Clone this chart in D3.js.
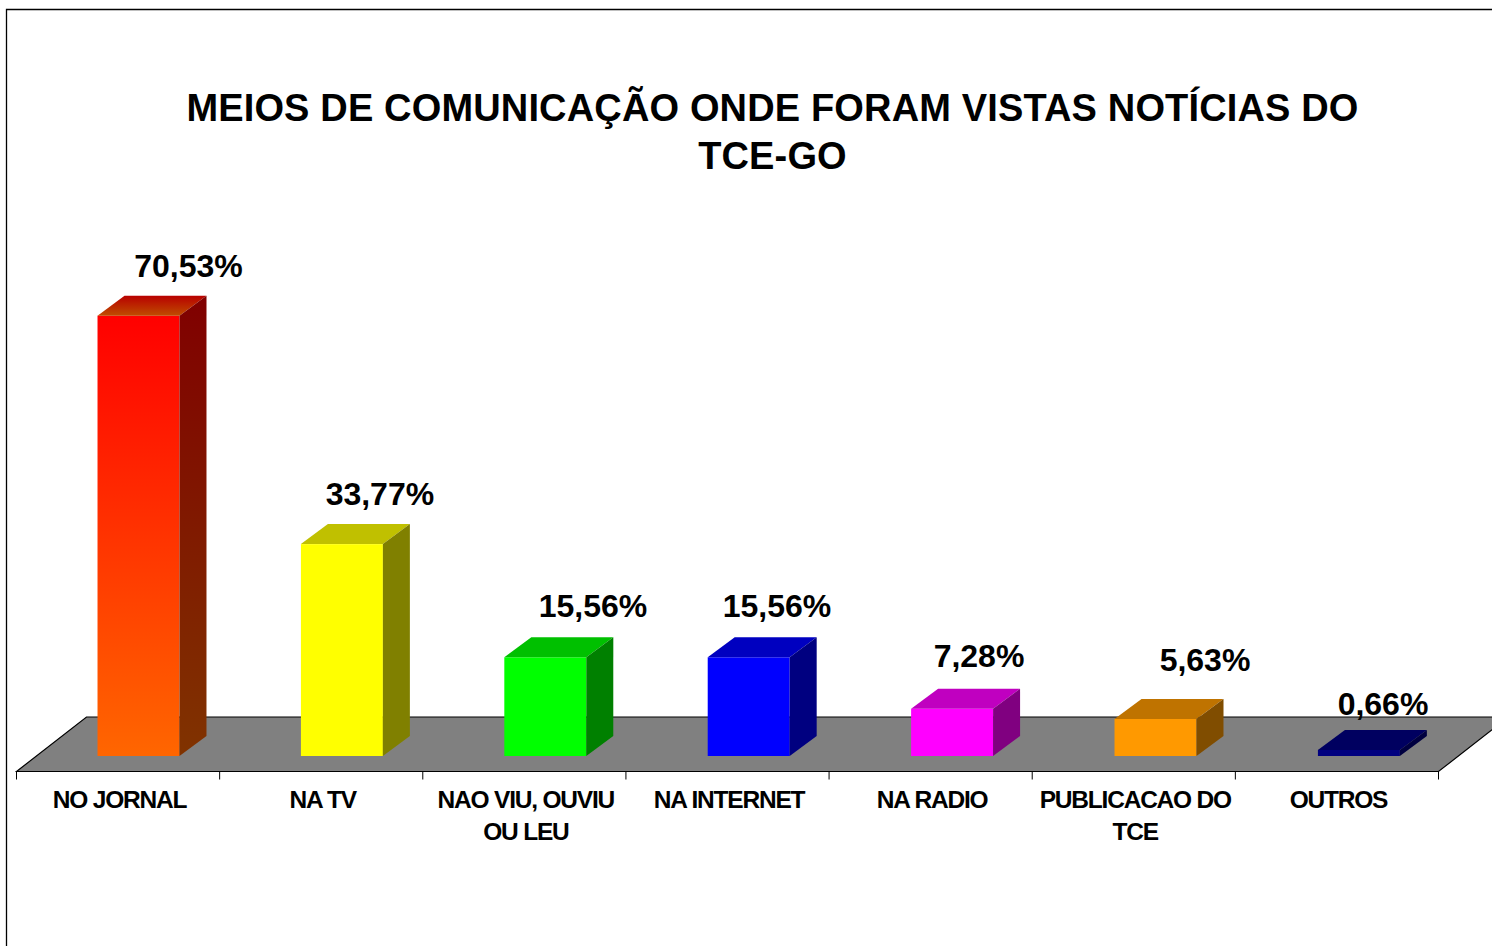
<!DOCTYPE html>
<html>
<head>
<meta charset="utf-8">
<script src="https://cdn.jsdelivr.net/npm/d3@7"></script>
<style>
    html, body { margin: 0; padding: 0; background: #fff; overflow: hidden; }
    svg { display: block; }
    text { font-family: "Liberation Sans", Arial, sans-serif; font-weight: bold; fill: #000; }
    .tick text { font-size: 24.5px; letter-spacing: -1.2px; }
    .title { letter-spacing: 0.15px; }
</style>
</head>
<body>
<div id="chart"></div>
<script>
const categories = ['NO JORNAL', 'NA TV', 'NAO VIU, OUVIU OU LEU', 'NA INTERNET', 'NA RADIO', 'PUBLICACAO DO TCE', 'OUTROS'];
const percents = [70.53, 33.77, 15.56, 15.56, 7.28, 5.63, 0.66];
const valueLabels = ['70,53%', '33,77%', '15,56%', '15,56%', '7,28%', '5,63%', '0,66%'];
const titleLines = ['MEIOS DE COMUNICAÇÃO ONDE FORAM VISTAS NOTÍCIAS DO', 'TCE-GO'];

// front, top and side colours, the first bar fades so it has two of each
const frontColors = [['#ff0000', '#ff6600'], ['#ffff00'], ['#00ff00'], ['#0000ff'], ['#ff00ff'], ['#ff9900'], ['#000080']];
const topColors = [['#b80000', '#bf4c00'], ['#c0c000'], ['#00c000'], ['#0000c0'], ['#c000c0'], ['#bf7300'], ['#000060']];
const sideColors = [['#800000', '#803300'], ['#808000'], ['#008000'], ['#000080'], ['#800080'], ['#804d00'], ['#000040']];

// the labels sit by hand in the original, not over the bars
const labelDx = [50, 38, 47.7, 28.3, 26.9, 49.5, 24.1];
const labelDy = [-38.5, -39, -40.5, -40.5, -42, -48, -35];

const width = 1492, height = 946;
const depthX = 27, depthY = 20;
const floorFront = 771.5, floorBack = 717, floorDepth = 70;
const baseY = 756;
const zeroY = 754;

const svg = d3.select('#chart').append('svg')
    .attr('width', width)
    .attr('height', height);

const defs = svg.append('defs');

// axis runs along the front edge of the floor
const xAxis = d3.scaleBand().domain(categories).range([16.5, 1438.5]);
// bars stand further back, so they are shifted to the right of the axis bands
const xBars = d3.scaleBand().domain(categories).range([36.8, 1460.6]).paddingInner(0.597).paddingOuter(0.2985);
const y = d3.scaleLinear().domain([0, 80]).range([zeroY, zeroY - 80 * 6.215]);

function fillFor(colors, id) {
    if (colors.length === 1) return colors[0];
    const grad = defs.append('linearGradient')
        .attr('id', id)
        .attr('x1', 0).attr('y1', 0)
        .attr('x2', 0).attr('y2', 1);
    grad.append('stop').attr('offset', '0%').attr('stop-color', colors[0]);
    grad.append('stop').attr('offset', '100%').attr('stop-color', colors[1]);
    return 'url(#' + id + ')';
}

function polygon(points) {
    return points.map(p => p.join(',')).join(' ');
}

// page frame, top and left only
svg.append('path')
    .attr('d', 'M6.5,946V9.5H1492')
    .attr('fill', 'none')
    .attr('stroke', '#000')
    .attr('stroke-width', 1.3);

// floor
svg.append('polygon')
    .attr('points', polygon([
        [xAxis.range()[0], floorFront],
        [xAxis.range()[0] + floorDepth, floorBack],
        [xAxis.range()[1] + floorDepth, floorBack],
        [xAxis.range()[1], floorFront]
    ]))
    .attr('fill', '#808080')
    .attr('stroke', '#000')
    .attr('stroke-width', 1.2);

// bars
const bars = svg.selectAll('.bar')
    .data(categories)
    .enter().append('g')
    .classed('bar', true);

bars.append('rect')
    .attr('x', d => xBars(d))
    .attr('y', (d, i) => y(percents[i]))
    .attr('width', xBars.bandwidth())
    .attr('height', (d, i) => baseY - y(percents[i]))
    .attr('fill', (d, i) => fillFor(frontColors[i], 'front' + i));

bars.append('polygon')
    .attr('points', (d, i) => {
        const x0 = xBars(d), x1 = x0 + xBars.bandwidth(), t = y(percents[i]);
        return polygon([[x0, t], [x0 + depthX, t - depthY], [x1 + depthX, t - depthY], [x1, t]]);
    })
    .attr('fill', (d, i) => fillFor(topColors[i], 'top' + i));

bars.append('polygon')
    .attr('points', (d, i) => {
        const x1 = xBars(d) + xBars.bandwidth(), t = y(percents[i]);
        return polygon([[x1, t], [x1 + depthX, t - depthY], [x1 + depthX, baseY - depthY], [x1, baseY]]);
    })
    .attr('fill', (d, i) => fillFor(sideColors[i], 'side' + i));

// value labels
svg.selectAll('.value')
    .data(valueLabels)
    .enter().append('text')
    .classed('value', true)
    .attr('text-anchor', 'middle')
    .attr('font-size', 32)
    .attr('x', (d, i) => xBars(categories[i]) + xBars.bandwidth() / 2 + labelDx[i])
    .attr('y', (d, i) => y(percents[i]) + labelDy[i])
    .text(d => d);

// category axis
const axisG = svg.append('g')
    .attr('transform', 'translate(0,' + floorFront + ')')
    .call(d3.axisBottom(xAxis).tickSize(0).tickPadding(19));
axisG.select('.domain').remove();
axisG.selectAll('.tick text')
    .attr('font-size', null)
    .attr('font-family', null)
    .call(wrapLabels, 205);

// ticks go between the categories
axisG.selectAll('.bound')
    .data(d3.range(categories.length + 1))
    .enter().append('line')
    .classed('bound', true)
    .attr('x1', i => xAxis.range()[0] + i * xAxis.step())
    .attr('x2', i => xAxis.range()[0] + i * xAxis.step())
    .attr('y1', 0)
    .attr('y2', 8)
    .attr('stroke', '#000');

function wrapLabels(sel, maxWidth) {
    sel.each(function () {
        const label = d3.select(this);
        const words = label.text().split(' ');
        const dy = label.attr('dy');
        const yPos = label.attr('y');
        label.text(null);
        let line = [];
        let tspan = label.append('tspan').attr('x', 1.5).attr('y', yPos).attr('dy', dy);
        words.forEach(word => {
            line.push(word);
            tspan.text(line.join(' '));
            if (tspan.node().getComputedTextLength() > maxWidth && line.length > 1) {
                line.pop();
                tspan.text(line.join(' '));
                line = [word];
                // dy is relative to the line before
                tspan = label.append('tspan').attr('x', 1.5).attr('dy', '32px').text(word);
            }
        });
    });
}

// title
svg.selectAll('.title')
    .data(titleLines)
    .enter().append('text')
    .classed('title', true)
    .attr('text-anchor', 'middle')
    .attr('font-size', 38)
    .attr('x', 772.5)
    .attr('y', (d, i) => 121 + i * 48)
    .text(d => d);
</script>
</body>
</html>
